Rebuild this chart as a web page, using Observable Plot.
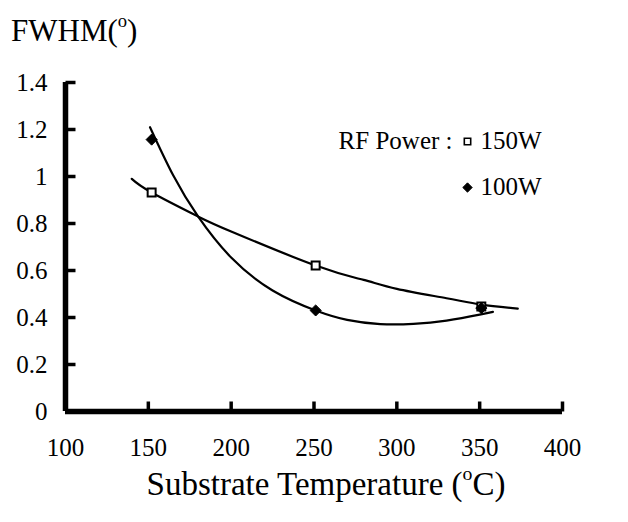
<!DOCTYPE html>
<html>
<head>
<meta charset="utf-8">
<script src="https://cdn.jsdelivr.net/npm/d3@7"></script>
<script src="https://cdn.jsdelivr.net/npm/@observablehq/plot@0.6"></script>
<style>
  html, body { margin: 0; padding: 0; background: #fff; }
  body { width: 628px; height: 522px; position: relative; overflow: hidden;
         font-family: "Liberation Serif", "Times New Roman", serif; color: #000; }
  #title { position: absolute; left: 11px; top: 15px; font-size: 31px; line-height: 1; }
  #chart { position: absolute; left: 0; top: 60px; }
  #chart svg text { font-family: "Liberation Serif", "Times New Roman", serif; }
  #xlabel { position: absolute; left: 0; width: 628px; top: 468px; text-align: center;
            font-size: 33px; line-height: 1; padding-left: 24px; box-sizing: border-box; }
  sup { font-size: 0.6em; vertical-align: 0; position: relative; top: -0.75em; }
</style>
</head>
<body>
<div id="title">FWHM(<sup>o</sup>)</div>
<div id="chart"></div>
<div id="xlabel">Substrate Temperature (<sup>o</sup>C)</div>
<script>
// Measured points (substrate temperature in °C, FWHM in degrees)
const temps = [152, 251, 351];
const fwhm150W = [0.932, 0.621, 0.447];
const fwhm100W = [1.157, 0.43, 0.44];

// Trend curves
const fit150X = [140, 152, 180, 200, 251, 280, 300, 330, 351, 373];
const fit150Y = [0.99, 0.932, 0.83, 0.766, 0.621, 0.56, 0.522, 0.482, 0.455, 0.438];
const fit100X = [151, 165, 180, 200, 225, 251, 270, 290, 310, 330, 350, 358];
const fit100Y = [1.21, 1.005, 0.83, 0.655, 0.515, 0.43, 0.39, 0.372, 0.373, 0.387, 0.412, 0.424];

// Axis ticks
const xTicks = [100, 150, 200, 250, 300, 350, 400];
const yTicks = [0, 0.2, 0.4, 0.6, 0.8, 1, 1.2, 1.4];
const yTickLabels = ["0", "0.2", "0.4", "0.6", "0.8", "1", "1.2", "1.4"];

// Legend
const legendTitle = "RF Power :";
const seriesNames = ["150W", "100W"];

const pts150 = temps.map((t, i) => ({x: t, y: fwhm150W[i]}));
const pts100 = temps.map((t, i) => ({x: t, y: fwhm100W[i]}));
const curve150 = fit150X.map((t, i) => ({x: t, y: fit150Y[i]}));
const curve100 = fit100X.map((t, i) => ({x: t, y: fit100Y[i]}));

// custom tick symbols: short strokes pointing into the plot
const upTick = {draw(ctx) { ctx.moveTo(0, 0); ctx.lineTo(0, -10); }};
const rightTick = {draw(ctx) { ctx.moveTo(0, 0); ctx.lineTo(10, 0); }};

const W = 628, H = 390;
const mT = 22, mB = 39, mL = 65, mR = 66;

const chart = Plot.plot({
  width: W, height: H,
  marginTop: mT, marginBottom: mB, marginLeft: mL, marginRight: mR,
  style: {fontFamily: '"Liberation Serif", "Times New Roman", serif', fontSize: "25px", color: "#000", background: "#fff", overflow: "visible"},
  x: {domain: [xTicks[0], xTicks[xTicks.length - 1]], ticks: xTicks, tickSize: 0, tickPadding: 27, tickFormat: d => String(d), label: null},
  y: {domain: [yTicks[0], yTicks[yTicks.length - 1]], ticks: yTicks, tickSize: 0, tickPadding: 18, tickFormat: d => yTickLabels[yTicks.indexOf(d)], label: null},
  marks: [
    // axis lines
    Plot.ruleY([yTicks[0]], {stroke: "black", strokeWidth: 5.5}),
    Plot.ruleX([xTicks[0]], {stroke: "black", strokeWidth: 5.5}),
    // inward ticks
    Plot.dot(xTicks.slice(1), {x: d => d, y: () => yTicks[0], symbol: upTick, r: 4, fill: "none", stroke: "black", strokeWidth: 3.5}),
    Plot.dot(yTicks.slice(1), {x: () => xTicks[0], y: d => d, symbol: rightTick, r: 4, fill: "none", stroke: "black", strokeWidth: 3.5}),
    // trend curves
    Plot.line(curve150, {x: "x", y: "y", curve: "natural", stroke: "black", strokeWidth: 2.2}),
    Plot.line(curve100, {x: "x", y: "y", curve: "natural", stroke: "black", strokeWidth: 2.2}),
    // data markers
    Plot.dot(pts150, {x: "x", y: "y", symbol: "square", r: 4.5, fill: "#fff", stroke: "black", strokeWidth: 2}),
    Plot.dot(pts100, {x: "x", y: "y", symbol: "diamond2", r: 5, fill: "black", stroke: "black", strokeWidth: 1}),
    // legend
    Plot.text([legendTitle], {text: d => d, frameAnchor: "top-right", lineAnchor: "middle", dx: -110, dy: 58, textAnchor: "end", fontSize: 25, fill: "black"}),
    Plot.dot([seriesNames[0]], {frameAnchor: "top-right", dx: -95, dy: 59, symbol: "square", r: 3.6, fill: "#fff", stroke: "black", strokeWidth: 1.6}),
    Plot.text([seriesNames[0]], {text: d => d, frameAnchor: "top-right", lineAnchor: "middle", dx: -82, dy: 58, textAnchor: "start", fontSize: 25, fill: "black"}),
    Plot.dot([seriesNames[1]], {frameAnchor: "top-right", dx: -95, dy: 105, symbol: "diamond2", r: 4.2, fill: "black", stroke: "black", strokeWidth: 1}),
    Plot.text([seriesNames[1]], {text: d => d, frameAnchor: "top-right", lineAnchor: "middle", dx: -82, dy: 104, textAnchor: "start", fontSize: 25, fill: "black"})
  ]
});
document.getElementById("chart").appendChild(chart);
</script>
</body>
</html>
